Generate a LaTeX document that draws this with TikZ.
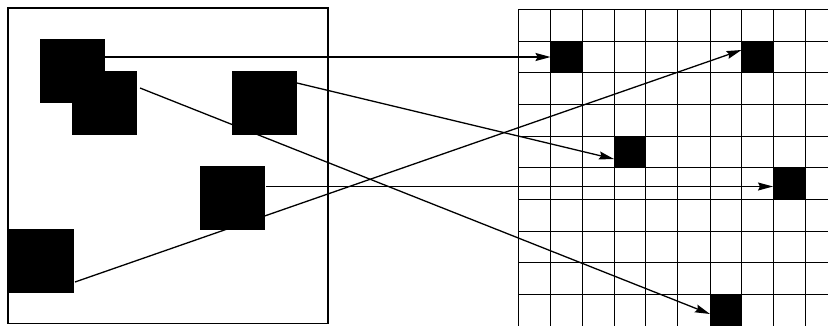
\documentclass[tikz,border=0pt]{standalone}
\usetikzlibrary{arrows.meta,calc}
\pgfdeclarelayer{bg}
\pgfsetlayers{bg,main}
\begin{document}
\begin{tikzpicture}[x=1pt,y=-1pt,
  blk/.style={draw=none,fill=black,inner sep=0pt,outer sep=0pt,minimum width=65pt,minimum height=64pt},
  cellblk/.style={draw=none,fill=black,inner sep=0pt,outer sep=0pt,minimum width=31.9pt,minimum height=31.7pt},
  gridline/.style={line width=1.8pt},
  frame/.style={line width=1.6pt},
  conn/.style={line width=1.3pt,-{Stealth[length=15pt,width=8pt,inset=2pt]}}]
\useasboundingbox (0,0) rectangle (828,325);
% left frame
\draw[frame] (8,8) rectangle (328,323.5);
% grid
\begin{scope}
\clip (0,0) rectangle (828,325);
\foreach \x in {518.5,550.5,582.5,614.5,645.5,677.5,710.5,741.5,773.5,805.5} \draw[gridline] (\x,9) -- (\x,330);
\foreach \y in {9.5,41.5,72.5,104.5,136.5,167.5,199.5,231.5,262.5,294.5} \draw[gridline] (518.5,\y) -- (835,\y);
\end{scope}
% left squares
\node[blk] (A) at (72,71) {};
\node[blk] (B) at (104.5,103) {};
\node[blk] (C) at (264,103) {};
\node[blk] (D) at (232.5,198) {};
\node[blk] (E) at (41,261) {};
% filled cells
\node[cellblk] (c11) at (566.5,57) {};
\node[cellblk] (c71) at (757.5,57) {};
\node[cellblk] (c34) at (630,152) {};
\node[cellblk] (c85) at (789.5,183.5) {};
\node[cellblk] (c69) at (726,310.5) {};
% connector end points
\coordinate (sB) at (140,88);
\coordinate (sC) at (297,83);
\coordinate (sD) at (266,186.5);
\coordinate (sE) at (75,282);
\coordinate (tB) at (710,314);
\coordinate (tC) at (614,159);
\coordinate (tD) at (773,186.5);
\coordinate (tE) at (741.5,50);
\begin{pgfonlayer}{bg}
\draw[conn] (A.east |- c11.west) -- (c11.west);
\draw[conn] (sB) -- (tB);
\draw[conn] (sC) -- (tC);
\draw[conn] (sD) -- (tD);
\draw[conn] (sE) -- (tE);
\end{pgfonlayer}
\end{tikzpicture}
\end{document}
